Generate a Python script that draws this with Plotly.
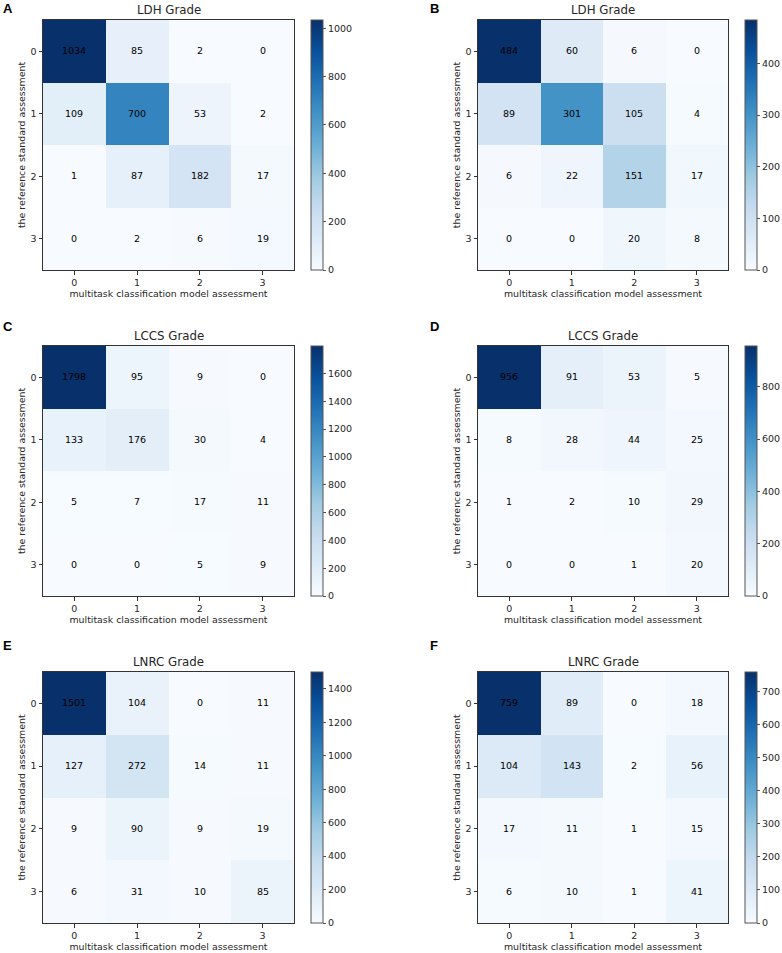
import plotly.graph_objects as go

# ---------------- data ----------------
classes = [0, 1, 2, 3]
tick_labels = ["0", "1", "2", "3"]

panel_letters = ["A", "B", "C", "D", "E", "F"]
panel_titles = ["LDH Grade", "LDH Grade", "LCCS Grade", "LCCS Grade", "LNRC Grade", "LNRC Grade"]

cm_A = [[1034, 85, 2, 0],
        [109, 700, 53, 2],
        [1, 87, 182, 17],
        [0, 2, 6, 19]]
cm_B = [[484, 60, 6, 0],
        [89, 301, 105, 4],
        [6, 22, 151, 17],
        [0, 0, 20, 8]]
cm_C = [[1798, 95, 9, 0],
        [133, 176, 30, 4],
        [5, 7, 17, 11],
        [0, 0, 5, 9]]
cm_D = [[956, 91, 53, 5],
        [8, 28, 44, 25],
        [1, 2, 10, 29],
        [0, 0, 1, 20]]
cm_E = [[1501, 104, 0, 11],
        [127, 272, 14, 11],
        [9, 90, 9, 19],
        [6, 31, 10, 85]]
cm_F = [[759, 89, 0, 18],
        [104, 143, 2, 56],
        [17, 11, 1, 15],
        [6, 10, 1, 41]]
matrices = [cm_A, cm_B, cm_C, cm_D, cm_E, cm_F]

cbar_dtick = [200, 100, 200, 200, 200, 100]

x_title = "multitask classification model assessment"
y_title = "the reference standard assessment"

# ---------------- styling ----------------
W, H = 782, 953
blues = ["#f7fbff", "#deebf7", "#c6dbef", "#9ecae1", "#6baed6",
         "#4292c6", "#2171b5", "#08519c", "#08306b"]
colorscale = [[i / 8, c] for i, c in enumerate(blues)]

col_px = [(43, 294), (478, 728)]
cbar_px = [311, 745]
row_px = [(20, 270), (346, 596), (672, 923)]
letter_px = [(1, 8), (428, 8), (1, 327), (428, 327), (1, 645), (428, 645)]
FONT = "DejaVu Sans, Liberation Sans, sans-serif"
INK = "#262626"

fig = go.Figure()
annotations = []

for i, z in enumerate(matrices):
    r, c = divmod(i, 2)
    x0, x1 = col_px[c]
    y0, y1 = row_px[r]
    xd = [x0 / W, x1 / W]
    yd = [1 - y1 / H, 1 - y0 / H]
    ax = "" if i == 0 else str(i + 1)
    zmax = max(max(row) for row in z)
    fig.add_trace(go.Heatmap(
        z=z, x=classes, y=classes,
        zmin=0, zmax=zmax,
        colorscale=colorscale,
        texttemplate="%{z}",
        textfont=dict(family=FONT, size=9.5, color="black"),
        xaxis="x" + ax, yaxis="y" + ax,
        hoverinfo="z",
        colorbar=dict(
            x=cbar_px[c] / W, xanchor="left", xref="paper",
            y=(yd[0] + yd[1]) / 2, yanchor="middle",
            len=(y1 - y0) / H, lenmode="fraction",
            thickness=12, thicknessmode="pixels",
            xpad=0, ypad=0,
            outlinewidth=1, outlinecolor="#555555",
            ticks="outside", ticklen=3, tickwidth=1, tickcolor="#555555",
            tick0=0, dtick=cbar_dtick[i],
            tickfont=dict(family=FONT, size=9.5, color=INK),
        ),
    ))
    axis_common = dict(
        showline=True, mirror=True, linecolor="#333333", linewidth=1,
        ticks="outside", ticklen=3.5, tickwidth=1, tickcolor="#333333",
        tickvals=classes, ticktext=tick_labels,
        tickfont=dict(family=FONT, size=9.5, color=INK),
        showgrid=False, zeroline=False, fixedrange=True,
    )
    fig.layout["xaxis" + ax] = dict(
        domain=xd, anchor="y" + ax, range=[-0.5, 3.5],
        title=dict(text=x_title, standoff=2,
                   font=dict(family=FONT, size=9.4, color=INK)),
        **axis_common)
    fig.layout["yaxis" + ax] = dict(
        domain=yd, anchor="x" + ax, range=[3.5, -0.5],
        title=dict(text=y_title, standoff=3,
                   font=dict(family=FONT, size=9.4, color=INK)),
        **axis_common)
    # subplot title
    annotations.append(dict(
        text=panel_titles[i], x=(x0 + x1) / 2 / W, y=1 - (y0 - 10) / H,
        xref="paper", yref="paper", xanchor="center", yanchor="middle",
        showarrow=False, font=dict(family=FONT, size=11.8, color=INK)))
    # panel letter
    lx, ly = letter_px[i]
    annotations.append(dict(
        text="<b>" + panel_letters[i] + "</b>", x=lx / W, y=1 - ly / H,
        xref="paper", yref="paper", xanchor="left", yanchor="middle",
        showarrow=False, font=dict(family="Liberation Sans, Arial, sans-serif",
                                   size=13, color="black")))

fig.update_layout(
    width=W, height=H,
    margin=dict(l=0, r=0, t=0, b=0),
    paper_bgcolor="white", plot_bgcolor="white",
    annotations=annotations,
    font=dict(family=FONT, size=9.5, color=INK),
)

fig.write_html(
    "out.html",
    config={"displayModeBar": False},
    post_script="document.body.style.margin='0';document.body.style.padding='0';"
                "document.body.style.overflow='hidden';",
)
